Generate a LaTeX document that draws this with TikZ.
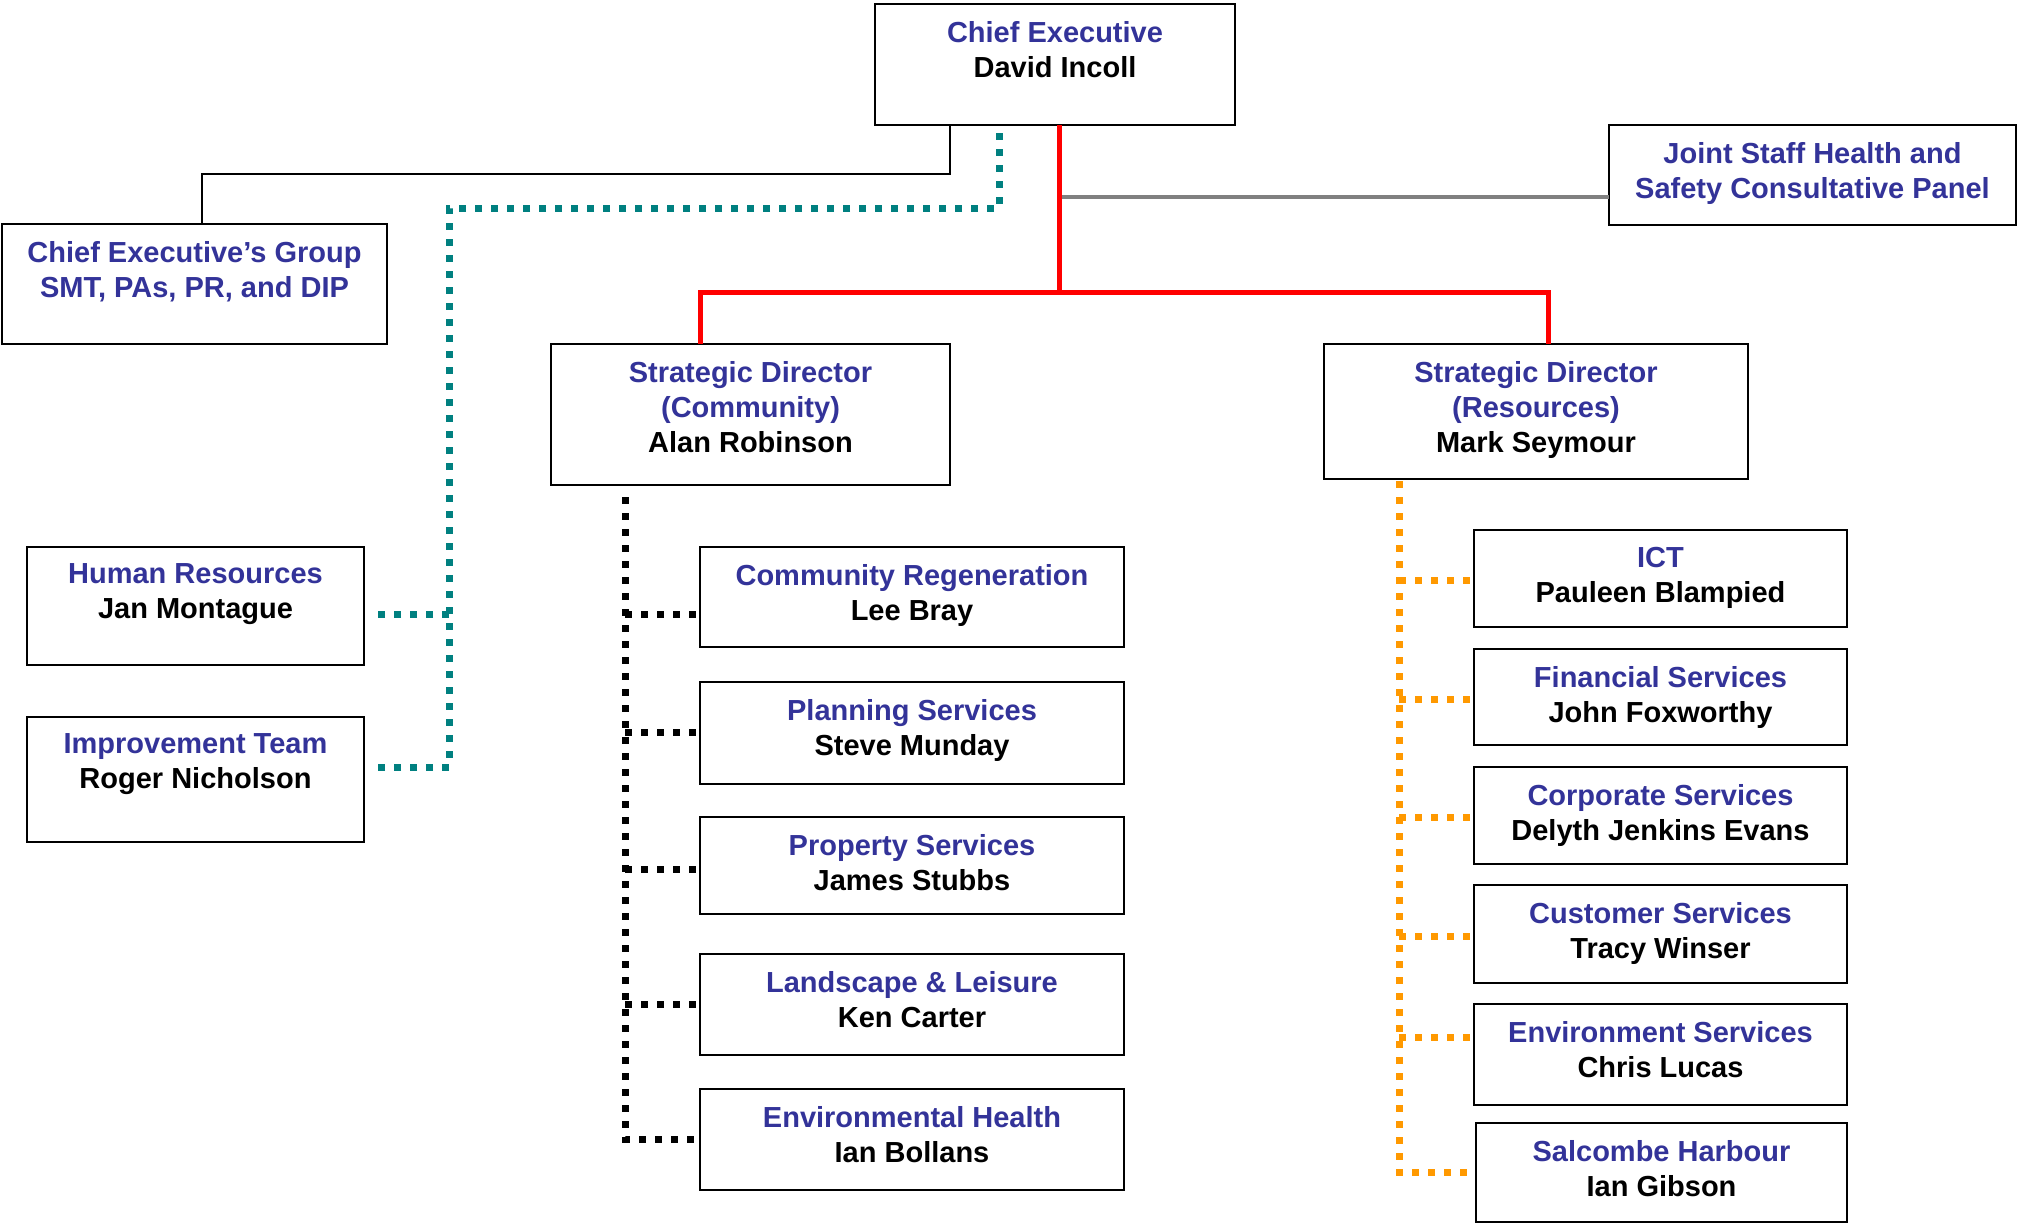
\documentclass[tikz,border=0pt]{standalone}
\usepackage{fontspec}
\setmainfont{Liberation Sans}
\definecolor{ttl}{HTML}{333399}
\definecolor{tealc}{HTML}{008080}
\definecolor{orangec}{HTML}{FF9900}
\definecolor{grayc}{HTML}{808080}
\tikzset{
  obox/.style={draw=black, line width=2.5pt, outer sep=0pt, inner sep=0pt, fill=white},
  otext/.style={inner sep=0pt, outer sep=0pt, align=center, font=\fontsize{29}{35}\selectfont\bfseries},
  thinline/.style={draw=black, line width=2pt},
  redline/.style={draw=red, line width=5pt},
  grayline/.style={draw=grayc, line width=4pt},
  dotline/.style={line width=7pt, dash pattern=on 7pt off 9pt},
  tealdot/.style={dotline, draw=tealc},
  blackdot/.style={dotline, draw=black},
  orangedot/.style={dotline, draw=orangec},
}
\newcommand\orgbox[6]{%
  \node[obox, minimum width=#4pt, minimum height=#5pt, anchor=north west] (#1) at (#2,#3) {};
  \node[otext, anchor=north] (#1-t) at ([yshift=-17pt]#1.north) {#6};
}
\begin{document}
\begin{tikzpicture}[x=1pt,y=-1pt]
\useasboundingbox (0,0) rectangle (2018,1224);
% boxes
\orgbox{ce}{875}{4}{360}{121}{{\color{ttl}Chief Executive}\\David Incoll}
\orgbox{ceg}{2}{224}{385}{120}{\color{ttl}Chief Executive’s Group\\\color{ttl}SMT, PAs, PR, and DIP}
\orgbox{jsh}{1609}{125}{407}{100}{\color{ttl}Joint Staff Health and\\\color{ttl}Safety Consultative Panel}
\orgbox{sdc}{551}{344}{399}{141}{{\color{ttl}Strategic Director}\\{\color{ttl}(Community)}\\Alan Robinson}
\orgbox{sdr}{1324}{344}{424}{135}{{\color{ttl}Strategic Director}\\{\color{ttl}(Resources)}\\Mark Seymour}
\orgbox{hr}{27}{547}{337}{118}{{\color{ttl}Human Resources}\\Jan Montague}
\orgbox{it}{27}{717}{337}{125}{{\color{ttl}Improvement Team}\\Roger Nicholson}
\orgbox{cr}{700}{547}{424}{100}{{\color{ttl}Community Regeneration}\\Lee Bray}
\orgbox{ps}{700}{682}{424}{102}{{\color{ttl}Planning Services}\\Steve Munday}
\orgbox{prs}{700}{817}{424}{97}{{\color{ttl}Property Services}\\James Stubbs}
\orgbox{ll}{700}{954}{424}{101}{{\color{ttl}Landscape \& Leisure}\\Ken Carter}
\orgbox{eh}{700}{1089}{424}{101}{{\color{ttl}Environmental Health}\\Ian Bollans}
\orgbox{ict}{1474}{530}{373}{97}{{\color{ttl}ICT}\\Pauleen Blampied}
\orgbox{fs}{1474}{649}{373}{96}{{\color{ttl}Financial Services}\\John Foxworthy}
\orgbox{cs}{1474}{767}{373}{97}{{\color{ttl}Corporate Services}\\Delyth Jenkins Evans}
\orgbox{cus}{1474}{885}{373}{98}{{\color{ttl}Customer Services}\\Tracy Winser}
\orgbox{es}{1474}{1004}{373}{101}{{\color{ttl}Environment Services}\\Chris Lucas}
\orgbox{sh}{1476}{1123}{371}{99}{{\color{ttl}Salcombe Harbour}\\Ian Gibson}
% junction coordinates
\coordinate (j1) at (950,174);
\coordinate (j2) at (202,174);
\coordinate (t0) at (999,133);
\coordinate (t1) at (999,208);
\coordinate (t2) at (449,208);
\coordinate (th) at (449,614);
\coordinate (t3) at (449,767);
\coordinate (r0) at (1059,292);
\coordinate (ra) at (700,292);
\coordinate (rb) at (1548,292);
\coordinate (g0) at (1059,197);
\coordinate (bt) at (625,497);
\coordinate (b1) at (625,614);
\coordinate (b2) at (625,732);
\coordinate (b3) at (625,869);
\coordinate (b4) at (625,1004);
\coordinate (b5) at (625,1139);
\coordinate (ot) at (1399,481);
\coordinate (o1) at (1399,580);
\coordinate (o2) at (1399,699);
\coordinate (o3) at (1399,817);
\coordinate (o4) at (1399,936);
\coordinate (o5) at (1399,1037);
\coordinate (o6) at (1399,1172);
% connectors
\draw[thinline] (ce.south -| j1) -- (j1) -- (j2) -- (ceg.north -| j2);
\draw[tealdot] (t0) -- (t1) -- (t2) -- (t3) -- ([xshift=13pt]it.east |- t3);
\draw[tealdot] (th) -- ([xshift=13pt]hr.east |- th);
\draw[grayline] (g0) -- (jsh.west |- g0);
\draw[redline] (ce.south -| r0) -- (r0);
\draw[redline] (sdc.north -| ra) -- (ra) -- (rb) -- (sdr.north -| rb);
\draw[blackdot] (bt) -- (b5) -- (eh.west |- b5);
\draw[blackdot] (b1) -- (cr.west |- b1);
\draw[blackdot] (b2) -- (ps.west |- b2);
\draw[blackdot] (b3) -- (prs.west |- b3);
\draw[blackdot] (b4) -- (ll.west |- b4);
\draw[orangedot] (ot) -- (o6) -- (sh.west |- o6);
\draw[orangedot] (o1) -- (ict.west |- o1);
\draw[orangedot] (o2) -- (fs.west |- o2);
\draw[orangedot] (o3) -- (cs.west |- o3);
\draw[orangedot] (o4) -- (cus.west |- o4);
\draw[orangedot] (o5) -- (es.west |- o5);
\end{tikzpicture}
\end{document}
